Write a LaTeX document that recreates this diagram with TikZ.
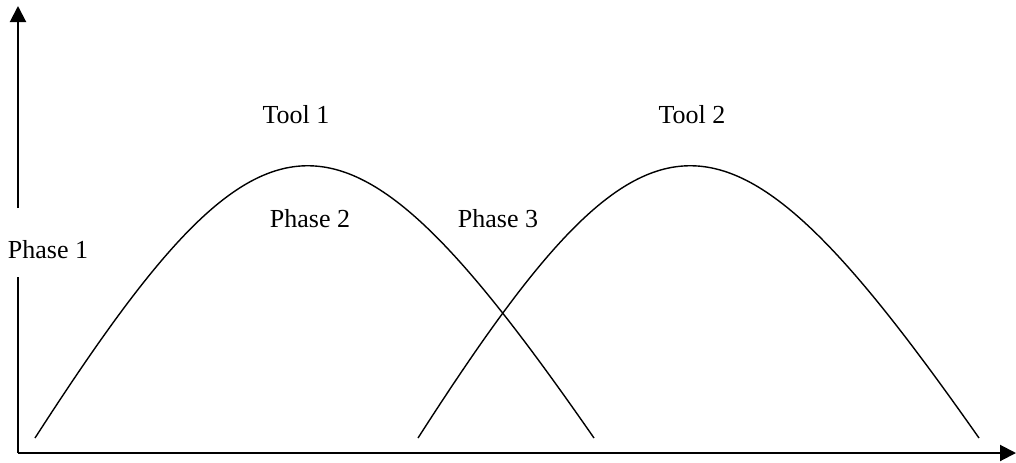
\documentclass[tikz,border=0pt]{standalone}
\usepackage{fontspec}
\setmainfont{Liberation Serif}
\usetikzlibrary{arrows.meta}

\begin{document}
\begin{tikzpicture}[
    x=0.5pt, y=0.5pt,
    axis/.style={line width=1pt, black},
    axisarrow/.style={axis, -{Triangle[length=8pt, width=8pt]}},
    curve/.style={line width=0.7pt, black},
    lbl/.style={font=\fontsize{13}{15}\selectfont, anchor=base, inner sep=0pt}
]
\useasboundingbox (0,0) rectangle (1016,462);

% Axis end points (y axis broken round the Phase 1 label)
\coordinate (origin) at (18,9);
\coordinate (ygaplo) at (18,185);
\coordinate (ygaphi) at (18,254);
\coordinate (ytop)   at (18,456);
\coordinate (xend)   at (1016,9);

% Labels
\node[lbl] (phase1) at (48,204)  {Phase 1};
\node[lbl] (tool1)  at (296,339) {Tool 1};
\node[lbl] (tool2)  at (692,339) {Tool 2};
\node[lbl] (phase2) at (310,235) {Phase 2};
\node[lbl] (phase3) at (498,235) {Phase 3};

% Curve end and control points
\coordinate (c1start) at (35,24);
\coordinate (c1ctla)  at (269,387);
\coordinate (c1ctlb)  at (342,387);
\coordinate (c1end)   at (594,24);

\coordinate (c2start) at (418,24);
\coordinate (c2ctla)  at (651,387);
\coordinate (c2ctlb)  at (724,387);
\coordinate (c2end)   at (979,24);

% Axes
\draw[axis] (origin) -- (ygaplo);
\draw[axisarrow] (ygaphi) -- (ytop);
\draw[axisarrow] (origin) -- (xend);

% Tool curves
\draw[curve] (c1start) .. controls (c1ctla) and (c1ctlb) .. (c1end);
\draw[curve] (c2start) .. controls (c2ctla) and (c2ctlb) .. (c2end);

\end{tikzpicture}
\end{document}
